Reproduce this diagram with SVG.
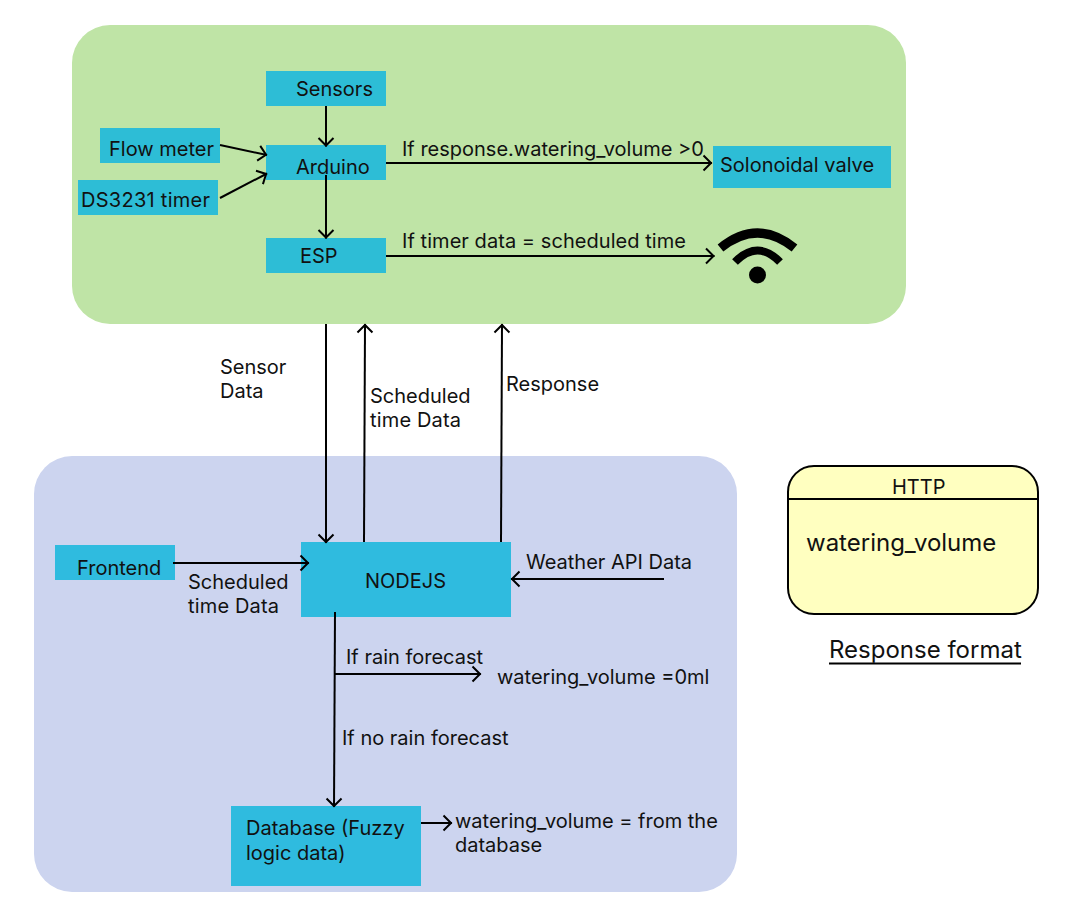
<svg xmlns="http://www.w3.org/2000/svg" width="1090" height="913" viewBox="0 0 1090 913">
<style>
text{font-family:Inter,"Liberation Sans",sans-serif;font-size:20px;fill:#111}
.n{fill:#2dbdd6}
.m{fill:#2fbbdf}
.c{fill:none;stroke:#000;stroke-width:2px;marker-end:url(#a)}
.l{fill:none;stroke:#000;stroke-width:2px}
</style>
<defs><marker id="a" markerUnits="userSpaceOnUse" markerWidth="20" markerHeight="20" refX="12.500" refY="10" orient="auto"><path d="M4 2.500L11.500 10L4 17.500" fill="none" stroke="#000" stroke-width="2"/></marker></defs>
<rect width="1090" height="913" fill="#fff"/>
<rect id="zone-device" x="72" y="25" width="834" height="299" rx="38" fill="#bfe4a6"/>
<rect id="zone-server" x="34" y="456" width="703" height="436" rx="38" fill="#ccd4ef"/>
<g id="sensors"><rect class="n" x="266" y="71" width="120" height="35"/><text x="296" y="96">Sensors</text></g>
<g id="flow-meter"><rect class="n" x="100" y="128" width="120" height="35"/><text x="109" y="156">Flow meter</text></g>
<g id="timer"><rect class="n" x="78" y="180" width="140" height="35"/><text x="81" y="207" textLength="129">DS3231 timer</text></g>
<g id="arduino"><rect class="n" x="266" y="145" width="120" height="35"/><text x="296" y="174">Arduino</text></g>
<g id="esp"><rect class="n" x="266" y="238" width="120" height="35"/><text x="300" y="263">ESP</text></g>
<g id="valve"><rect class="n" x="713" y="146" width="178" height="42"/><text x="720" y="172">Solonoidal valve</text></g>
<g id="wifi"><path d="M720.500 248Q757.500 218 794.500 248" fill="none" stroke="#000" stroke-width="9"/><path d="M735 262Q757.500 239 780 262" fill="none" stroke="#000" stroke-width="8"/><circle cx="757.500" cy="275" r="8.500" fill="#000"/></g>
<g id="frontend"><rect class="m" x="55" y="545" width="120" height="35"/><text x="77" y="575">Frontend</text></g>
<g id="nodejs"><rect class="m" x="301" y="542" width="210" height="75"/><text x="365" y="588">NODEJS</text></g>
<g id="database"><rect class="m" x="231" y="806" width="190" height="80"/><text x="246" y="835">Database (Fuzzy</text><text x="246" y="860">logic data)</text></g>
<g id="response-format"><rect x="788" y="466" width="250" height="148" rx="26" fill="#ffffc0" stroke="#000" stroke-width="2"/><path d="M788 499H1038" stroke="#000" stroke-width="2"/><text x="892" y="494">HTTP</text><text x="806" y="551" style="font-size:24px">watering_volume</text></g>
<g id="connectors">
<path class="c" d="M326 106V146.500"/>
<path class="c" d="M220 145L267 155"/>
<path class="c" d="M220 198L267 173.500"/>
<path class="c" d="M326 175V238.500"/>
<path class="c" d="M386 163H712"/>
<path class="c" d="M386 256H714.500"/>
<path class="c" d="M326 324V543"/>
<path class="c" d="M364 542L365 324"/>
<path class="c" d="M501 542L502 324"/>
<path class="c" d="M173 563H309"/>
<path class="c" d="M664 579H511"/>
<path class="c" d="M335 612L334 807"/>
<path class="c" d="M335 674H481"/>
<path class="c" d="M421 823H452"/>
</g>
<text x="402" y="156">If response.watering_volume &gt;0</text>
<text x="402" y="248" textLength="284">If timer data = scheduled time</text>
<text x="220" y="374">Sensor</text><text x="220" y="398">Data</text>
<text x="370" y="403">Scheduled</text><text x="370" y="427" textLength="91">time Data</text>
<text x="506" y="391">Response</text>
<text x="188" y="589">Scheduled</text><text x="188" y="613" textLength="91">time Data</text>
<text x="526" y="569">Weather API Data</text>
<text x="346" y="664">If rain forecast</text>
<text x="497" y="684">watering_volume =0ml</text>
<text x="342" y="745">If no rain forecast</text>
<text x="455" y="828">watering_volume = from the</text>
<text x="455" y="852">database</text>
<text x="829" y="658" style="font-size:24px">Response format</text>
<path class="l" d="M829 663.500H1021"/>
</svg>
